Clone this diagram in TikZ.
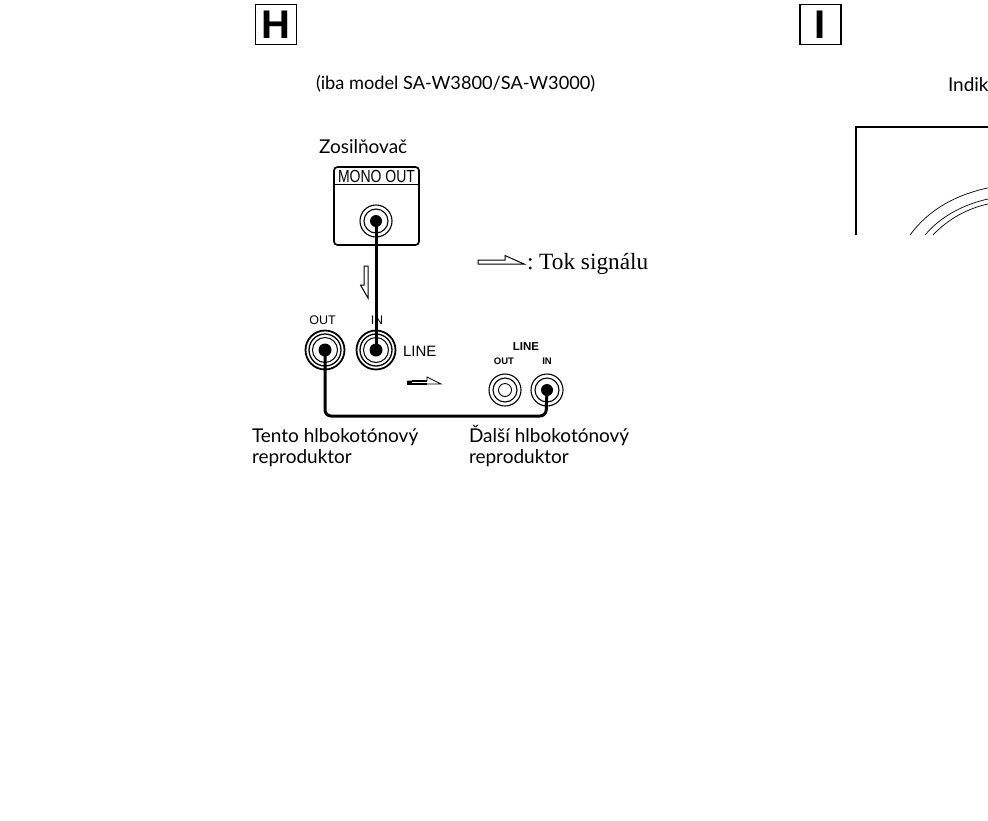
\documentclass[tikz,border=0pt]{standalone}
\usepackage{fontspec}
\setmainfont{Lato}
\newfontfamily\labelfont{Liberation Sans}
\newfontfamily\serifnote{Liberation Serif}
\usetikzlibrary{positioning}

\begin{document}
\begin{tikzpicture}[
    x=1pt, y=-1pt,
    every node/.style={inner sep=0pt, outer sep=0pt},
    caption/.style={anchor=base west, font=\fontsize{19}{21}\selectfont, text=black},
    panel/.style={draw, line width=1.8pt, minimum width=41pt, minimum height=40pt,
        font=\labelfont\bfseries\fontsize{40}{40}\selectfont},
    tiny/.style={font=\labelfont\fontsize{12.5}{14}\selectfont},
    tinybold/.style={font=\labelfont\bfseries\fontsize{9.5}{11}\selectfont},
    bigjack/.style={
        circle, draw, line width=1.8pt, minimum size=39pt,
        path picture={
            \draw[line width=1.3pt] (path picture bounding box.center) circle (16pt);
            \draw[line width=1pt] (path picture bounding box.center) circle (12.5pt);
            \fill (path picture bounding box.center) circle (6.5pt);
        }
    },
    smalljack/.style={
        circle, draw, line width=1.1pt, minimum size=32pt,
        path picture={
            \draw[line width=1.1pt] (path picture bounding box.center) circle (12pt);
            \fill (path picture bounding box.center) circle (6pt);
        }
    },
    emptyjack/.style={
        circle, draw, line width=1.1pt, minimum size=32pt,
        path picture={
            \draw[line width=1.1pt] (path picture bounding box.center) circle (12pt);
            \draw[line width=.9pt] (path picture bounding box.center) circle (6.5pt);
        }
    },
    cable/.style={line width=3pt, line cap=round},
    flow/.style={draw, line width=1pt, fill=white, line join=miter},
    arc/.style={line width=.7pt}
]
\useasboundingbox (0,0) rectangle (988,820);

% --- Panel H ---
\node[panel] (hbox) at (276,24.5) {H};
\node[caption, font=\fontsize{18.2}{21}\selectfont] (model) at (316,89) {(iba model SA-W3800/SA-W3000)};

% --- Amplifier ---
\node[caption] (amp) at (319,153) {Zosilňovač};
\node[draw, line width=1.7pt, rounded corners=3.5pt, minimum width=85pt, minimum height=78pt] (ampbox) at (376.5,206) {};
\coordinate (rulel) at (334,184);
\coordinate (ruler) at (419,184);
\draw[line width=.9pt] (rulel) -- (ruler);
\node[font=\labelfont\fontsize{17.5}{17}\selectfont, xscale=.8] (mono) at (376.5,176) {MONO OUT};
\node[smalljack] (monojack) at (376,221) {};

% --- This subwoofer ---
\node[bigjack] (outjack) at (325,350) {};
\node[bigjack, right=12pt of outjack] (injack) {};
\node[tiny] (outlabel) at (322.5,320) {OUT};
\node[tiny] (inlabel) at (377,320) {IN};
\node[font=\labelfont\fontsize{15}{16}\selectfont, anchor=west] (linelabel) at (403,351) {LINE};
\node[caption] (thisa) at (252,442) {Tento hlbokotónový};
\node[caption] (thisb) at (252,463) {reproduktor};

% --- Next subwoofer ---
\node[emptyjack] (nextout) at (505,390) {};
\node[smalljack, right=10pt of nextout] (nextin) {};
\node[font=\labelfont\bfseries\fontsize{11.5}{13}\selectfont] (nextline) at (526,347) {LINE};
\node[tinybold] (nextoutlabel) at (504,361) {OUT};
\node[tinybold] (nextinlabel) at (547,361) {IN};
\node[caption] (nexta) at (469,442) {Ďalší hlbokotónový};
\node[caption] (nextb) at (469,463) {reproduktor};

% --- Signal arrows ---
\draw[flow] (364,266) -- (368,266) -- (368,298) -- (360.5,285) -- (364,285) -- cycle;
\draw[flow, line width=.7pt] (408,381) -- (427,381) -- (427,377) -- (441,384) -- (408,384) -- cycle;
\fill (407,380.5) rectangle (412,384.5);
\draw[line width=1.6pt] (412,381) -- (427,381);
\draw[line width=1.2pt] (412,384) -- (427,384);
\draw[flow] (478,260) -- (505,260) -- (505,255.5) -- (524,264) -- (478,264) -- cycle;
\node[anchor=base west, font=\serifnote\fontsize{23.3}{24}\selectfont] (tok) at (527,269) {:\kern-2pt{} Tok signálu};

% --- Cables ---
\coordinate (lowl) at (325,416);
\coordinate (lowr) at (546,416);
\draw[cable] (monojack.center) -- (injack.center);
\draw[cable, rounded corners=6pt] (outjack.center) -- (lowl) -- (lowr) -- (nextin.center);

% --- Panel I ---
\node[panel] (ibox) at (820.5,24.5) {I};
\node[caption] (indik) at (948,91) {Indik};
\coordinate (framea) at (856,235);
\coordinate (frameb) at (856,127);
\coordinate (framec) at (988,127);
\draw[line width=2.4pt] (framea) -- (frameb) -- (framec);
\begin{scope}
    \clip (856,127) rectangle (988,235);
    \draw[arc] (910,235) .. controls (930,208) and (958,194) .. (990,187.5);
    \draw[arc] (925,235) .. controls (942,215) and (965,204) .. (990,198.5);
    \draw[arc] (933,235) .. controls (948,219) and (968,208) .. (990,203.5);
\end{scope}

\end{tikzpicture}
\end{document}
